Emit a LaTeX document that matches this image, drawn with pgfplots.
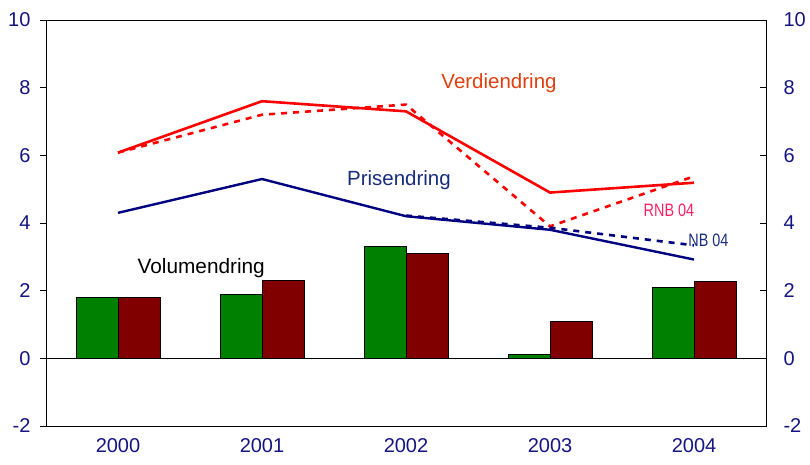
\documentclass[border=0pt]{standalone}
\usepackage{fontspec}
\setmainfont{Liberation Sans}
\usepackage{pgfplots}
\pgfplotsset{compat=1.18}
\definecolor{navytick}{RGB}{20,20,130}
\definecolor{barg}{RGB}{0,128,0}
\definecolor{barr}{RGB}{128,0,0}
\definecolor{lred}{RGB}{255,0,0}
\definecolor{lblue}{RGB}{0,0,128}
\definecolor{verd}{RGB}{224,64,16}
\definecolor{pris}{RGB}{25,45,125}
\definecolor{rnb}{RGB}{255,32,96}
\begin{document}
\begin{tikzpicture}
\pgfplotsset{
  common/.style={
    scale only axis, width=720bp, height=406bp,
    xmin=-0.5, xmax=4.5, ymin=-2, ymax=10,
    ytick={-2,0,2,4,6,8,10},
    /pgf/number format/assume math mode=true,
    tick label style={font=\fontsize{20bp}{24bp}\selectfont, text=navytick},
    major tick length=6bp,
    tick style={black, line width=0.6bp},
    axis line style={black, line width=0.9bp},
  }
}
\begin{axis}[common, name=main,
  ytick pos=left, tick align=outside,
  yticklabel style={xshift=-6bp},
  xtick={0,1,2,3,4}, xticklabels={2000,2001,2002,2003,2004},
  xtick pos=bottom,
  x tick style={draw=none},
  xticklabel style={yshift=-3bp},
  extra x ticks={0.5,1.5,2.5,3.5}, extra x tick labels={},
  extra x tick style={tick align=inside, major tick length=7bp, tick style={black, line width=0.6bp, draw=black}},
  clip=false,
]
\addplot[ybar, bar width=0.29, bar shift=0pt, fill=barg, draw=black, line width=0.5bp]
  coordinates {(-0.145,1.8) (0.855,1.9) (1.855,3.3) (2.855,0.11) (3.855,2.1)};
\addplot[ybar, bar width=0.29, bar shift=0pt, fill=barr, draw=black, line width=0.5bp]
  coordinates {(0.145,1.8) (1.145,2.3) (2.145,3.1) (3.145,1.1) (4.145,2.28)};
\addplot[black, line width=0.9bp] coordinates {(-0.5,0) (4.5,0)};
\addplot[lred, line width=2.6bp, dash pattern=on 6bp off 6bp] coordinates {(0,6.08) (1,7.2) (2,7.5) (3,3.9) (4,5.38)};
\addplot[lred, line width=2.6bp] coordinates {(0,6.08) (1,7.6) (2,7.3) (3,4.9) (4,5.19)};
\addplot[lblue, line width=2.6bp, dash pattern=on 6bp off 6bp] coordinates {(2,4.22) (3,3.86) (4,3.34)};
\addplot[lblue, line width=2.4bp] coordinates {(0,4.3) (1,5.3) (2,4.2) (3,3.8) (4,2.92)};
\node[font=\fontsize{20.5bp}{24bp}\selectfont, text=verd] at (axis cs:2.646,8.13) {Verdiendring};
\node[font=\fontsize{20.5bp}{24bp}\selectfont, text=pris] at (axis cs:1.951,5.26) {Prisendring};
\node[font=\fontsize{20.8bp}{24bp}\selectfont, text=black] at (axis cs:0.578,2.675) {Volumendring};
\node[font=\fontsize{18bp}{22bp}\selectfont, text=rnb, xscale=0.8] at (axis cs:3.826,4.39) {RNB 04};
\node[font=\fontsize{18bp}{22bp}\selectfont, text=pris, xscale=0.8] at (axis cs:4.10,3.50) {NB 04};
\end{axis}
\begin{axis}[common,
  axis y line*=right, axis x line=none,
  tick align=inside, yticklabel pos=right,
  yticklabel style={xshift=14bp},
]
\end{axis}
\path ([xshift=-46bp,yshift=-38bp]main.south west) rectangle ([xshift=44bp,yshift=20bp]main.north east);
\end{tikzpicture}
\end{document}
